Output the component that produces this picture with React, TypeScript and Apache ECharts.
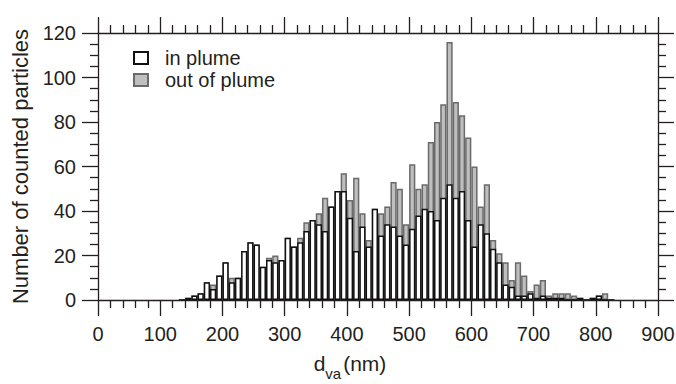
import React, { useEffect, useRef } from "react";
import * as echarts from "echarts";

// bin start (nm), 10 nm wide bins
const binStarts = [
  130, 140, 150, 160, 170, 180, 190, 200, 210, 220,
  230, 240, 250, 260, 270, 280, 290, 300, 310, 320,
  330, 340, 350, 360, 370, 380, 390, 400, 410, 420,
  430, 440, 450, 460, 470, 480, 490, 500, 510, 520,
  530, 540, 550, 560, 570, 580, 590, 600, 610, 620,
  630, 640, 650, 660, 670, 680, 690, 700, 710, 720,
  730, 740, 750, 760, 770, 780, 790, 800, 810, 820,
];
const binWidth = 10;

const inPlume = [
  0, 1, 2, 3, 8, 5, 11, 17, 8, 10,
  22, 26, 25, 15, 18, 17, 18, 28, 24, 26,
  31, 36, 34, 31, 42, 49, 49, 37, 22, 33,
  24, 41, 29, 34, 33, 29, 25, 32, 38, 41,
  40, 36, 46, 52, 46, 49, 36, 24, 34, 30,
  23, 17, 7, 6, 2, 2, 3, 1, 2, 1,
  1, 1, 0, 0, 1, 0, 1, 2, 0, 0,
];

const outOfPlume = [
  0, 1, 2, 3, 8, 7, 11, 17, 10, 10,
  22, 26, 25, 15, 19, 20, 18, 28, 24, 28,
  35, 36, 39, 46, 42, 49, 57, 45, 55, 39,
  27, 41, 39, 42, 53, 50, 34, 61, 50, 52,
  71, 80, 88, 116, 89, 83, 73, 60, 42, 52,
  27, 21, 17, 9, 17, 11, 4, 7, 9, 2,
  3, 3, 3, 2, 1, 0, 1, 2, 3, 0,
];

const xTicks = [0, 100, 200, 300, 400, 500, 600, 700, 800, 900];
const yTicks = [0, 20, 40, 60, 80, 100, 120];

const FONT = "'Liberation Sans', Arial, Helvetica, sans-serif";
const INK = "#231f20";

export default function App() {
  const ref = useRef<HTMLDivElement>(null);

  useEffect(() => {
    if (!ref.current) return;
    const chart = echarts.init(ref.current, undefined, { renderer: "svg" });

    const centers = binStarts.map((b) => b + binWidth / 2);
    const axisLine = { show: true, onZero: false, lineStyle: { color: INK, width: 1.3 } };
    const tick = { show: true, inside: false, length: 16, lineStyle: { color: INK, width: 1.3 } };
    const minor = (n: number) => ({
      show: true,
      splitNumber: n,
      length: 8,
      lineStyle: { color: INK, width: 1.3 },
    });

    const xBase = {
      type: "value" as const,
      min: xTicks[0],
      max: xTicks[xTicks.length - 1],
      interval: xTicks[1] - xTicks[0],
      axisLine,
      axisTick: tick,
      minorTick: minor(5),
      splitLine: { show: false },
      minorSplitLine: { show: false },
    };
    const yBase = {
      type: "value" as const,
      min: yTicks[0],
      max: yTicks[yTicks.length - 1],
      interval: yTicks[1] - yTicks[0],
      axisLine,
      axisTick: tick,
      minorTick: minor(4),
      splitLine: { show: false },
      minorSplitLine: { show: false },
    };

    chart.setOption({
      animation: false,
      backgroundColor: "#ffffff",
      textStyle: { fontFamily: FONT },
      grid: {
        left: 98,
        right: 18,
        top: 33,
        bottom: 84,
        containLabel: false,
        outerBoundsMode: "none",
      },
      legend: {
        data: ["in plume", "out of plume"],
        orient: "vertical",
        left: 128,
        top: 43,
        icon: "rect",
        itemWidth: 14,
        itemHeight: 12,
        itemGap: 2,
        textStyle: {
          fontFamily: FONT,
          fontSize: 20,
          color: INK,
          padding: [0, 0, 0, 12],
        },
      },
      xAxis: [
        {
          ...xBase,
          position: "bottom",
          axisLabel: {
            show: true,
            fontSize: 20,
            color: INK,
            fontFamily: FONT,
            margin: 24,
          },
          name: "{a|d}{s|va}{a|(nm)}",
          nameLocation: "middle",
          nameGap: 50,
          nameTextStyle: {
            padding: [0, 56, 0, 0],
            rich: {
              a: { fontSize: 21, color: INK, fontFamily: FONT, lineHeight: 24, verticalAlign: "bottom" },
              s: { fontSize: 15, color: INK, fontFamily: FONT, lineHeight: 24, verticalAlign: "bottom", padding: [0, 2, -7, 0] },
            },
          },
        },
        {
          ...xBase,
          position: "top",
          axisLabel: { show: false },
        },
      ],
      yAxis: [
        {
          ...yBase,
          position: "left",
          axisLabel: {
            show: true,
            fontSize: 20,
            color: INK,
            fontFamily: FONT,
            margin: 22,
          },
          name: "Number of counted particles",
          nameLocation: "middle",
          nameGap: 62,
          nameTextStyle: { fontSize: 22, color: INK, fontFamily: FONT },
        },
        {
          ...yBase,
          position: "right",
          axisLabel: { show: false },
        },
      ],
      series: [
        {
          name: "out of plume",
          type: "bar",
          xAxisIndex: 0,
          yAxisIndex: 0,
          barWidth: "100%",
          barGap: "-100%",
          data: centers.map((c, i) => [c, outOfPlume[i]]),
          itemStyle: { color: "#bfbfbf", borderColor: "#6a6a6a", borderWidth: 1.5 },
          z: 2,
        },
        {
          name: "in plume",
          type: "bar",
          xAxisIndex: 0,
          yAxisIndex: 0,
          barWidth: "100%",
          barGap: "-100%",
          data: centers.map((c, i) => [c, inPlume[i]]),
          itemStyle: { color: "#ffffff", borderColor: "#111111", borderWidth: 1.5 },
          z: 3,
        },
      ],
    });

    return () => chart.dispose();
  }, []);

  return (
    <div
      ref={ref}
      style={{ width: 676, height: 384, position: "absolute", left: 0, top: 0 }}
    />
  );
}
